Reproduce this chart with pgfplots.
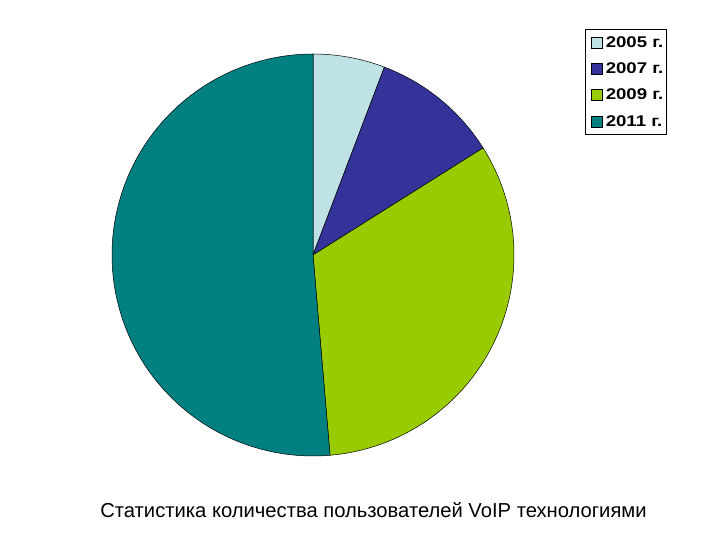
\documentclass[border=0pt]{standalone}
\usepackage{pgfplots}
\pgfplotsset{compat=1.18}
\usepackage{fontspec}
\setmainfont{Liberation Sans}
\newfontfamily\legfont{Liberation Sans}[FakeStretch=1.2]
\definecolor{c05}{HTML}{BFE2E6}
\definecolor{c07}{HTML}{333399}
\definecolor{c09}{HTML}{99CC00}
\definecolor{c11}{HTML}{008080}
% shares in percent
\def\pA{5.78}\def\pB{10.28}\def\pC{32.59}\def\pD{51.35}
\begin{document}
\begin{tikzpicture}
\pgfmathsetmacro{\aA}{90}
\pgfmathsetmacro{\aB}{90-3.6*\pA}
\pgfmathsetmacro{\aC}{\aB-3.6*\pB}
\pgfmathsetmacro{\aD}{\aC-3.6*\pC}
\pgfmathsetmacro{\aE}{\aD-3.6*\pD}
\begin{axis}[
  scale only axis, width=720bp, height=540bp,
  xmin=0, xmax=720, ymin=0, ymax=540,
  hide axis, clip=false,
  legend cell align=left,
  legend style={at={(axis cs:585,511)}, anchor=north west,
    draw=black, line width=0.6pt, inner xsep=0.5bp, inner ysep=5bp,
    row sep=10bp,
    font=\fontsize{15.5bp}{17bp}\legfont\bfseries},
  legend image code/.code={\draw[#1, draw=black, line width=0.4pt] (5bp,-5.5bp) rectangle (16bp,5.5bp);
    \path[draw=none, fill=none] (0bp,0bp) -- (18bp,0bp);},
]
\path (axis cs:0,0) rectangle (axis cs:720,540);
\addplot[fill=c05, draw=black, line width=0.5pt, domain=\aB:\aA, samples=40, variable=\t]
  ({313+201*cos(\t)},{285+201*sin(\t)}) -- (axis cs:313,285) -- cycle;
\addlegendentry{2005 г.}
\addplot[fill=c07, draw=black, line width=0.5pt, domain=\aC:\aB, samples=60, variable=\t]
  ({313+201*cos(\t)},{285+201*sin(\t)}) -- (axis cs:313,285) -- cycle;
\addlegendentry{2007 г.}
\addplot[fill=c09, draw=black, line width=0.5pt, domain=\aD:\aC, samples=120, variable=\t]
  ({313+201*cos(\t)},{285+201*sin(\t)}) -- (axis cs:313,285) -- cycle;
\addlegendentry{2009 г.}
\addplot[fill=c11, draw=black, line width=0.5pt, domain=\aE:\aD, samples=180, variable=\t]
  ({313+201*cos(\t)},{285+201*sin(\t)}) -- (axis cs:313,285) -- cycle;
\addlegendentry{2011 г.}
\node[anchor=base, font=\fontsize{20.2bp}{22bp}\selectfont] at (axis cs:373.5,22) {Статистика количества пользователей VoIP технологиями};
\end{axis}
\end{tikzpicture}
\end{document}
